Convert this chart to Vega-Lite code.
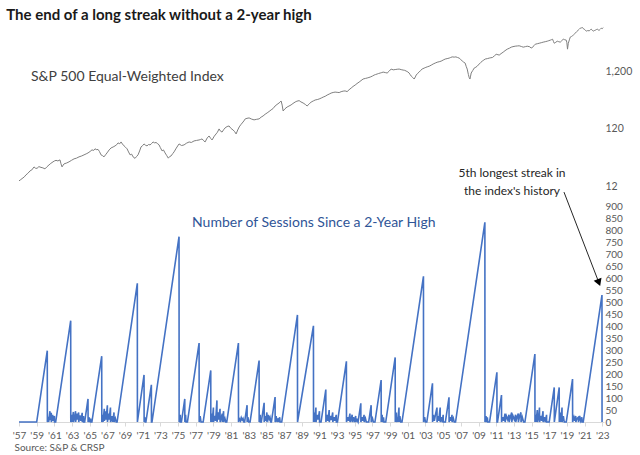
{
  "$schema": "https://vega.github.io/schema/vega-lite/v6.json",
  "padding": {"left": 6, "top": 8, "right": 5, "bottom": 2},
  "background": "white",
  "bounds": "flush",
  "title": {"text": "The end of a long streak without a 2-year high", "anchor": "start", "fontSize": 15, "font": "Lato", "fontWeight": "bold", "color": "#1a1a1a", "dx": -6, "dy": 4, "offset": 6},
  "config": {"view": {"stroke": null}, "font": "Lato"},
  "spacing": 9,
  "datasets": {
    "index": [
      {"t":1957.0,"p":15.2},{"t":1957.2,"p":16.0},{"t":1957.45,"p":17.1},{"t":1957.6,"p":17.8},{"t":1957.79,"p":19.3},{"t":1958.0,"p":20.5},{"t":1958.25,"p":22.6},{"t":1958.45,"p":23.5},{"t":1958.7,"p":26.5},{"t":1958.85,"p":25.2},{"t":1959.04,"p":25.0},{"t":1959.25,"p":26.8},{"t":1959.49,"p":26.0},{"t":1959.7,"p":25.5},{"t":1959.94,"p":24.5},{"t":1960.15,"p":26.5},{"t":1960.4,"p":28.7},{"t":1960.6,"p":30.5},{"t":1960.85,"p":32.4},{"t":1961.0,"p":33.5},{"t":1961.19,"p":34.4},{"t":1961.4,"p":33.6},{"t":1961.64,"p":35.0},{"t":1961.75,"p":30.0},{"t":1961.87,"p":26.5},{"t":1962.0,"p":28.5},{"t":1962.1,"p":29.9},{"t":1962.4,"p":31.0},{"t":1962.66,"p":32.4},{"t":1962.95,"p":34.5},{"t":1963.23,"p":36.5},{"t":1963.5,"p":37.5},{"t":1963.79,"p":39.5},{"t":1964.1,"p":41.0},{"t":1964.36,"p":42.8},{"t":1964.6,"p":44.5},{"t":1964.81,"p":46.2},{"t":1965.05,"p":49.0},{"t":1965.26,"p":52.2},{"t":1965.45,"p":51.0},{"t":1965.6,"p":54.4},{"t":1965.8,"p":52.5},{"t":1965.94,"p":53.2},{"t":1966.1,"p":49.0},{"t":1966.28,"p":42.8},{"t":1966.45,"p":41.5},{"t":1966.62,"p":39.5},{"t":1966.8,"p":43.0},{"t":1966.96,"p":46.2},{"t":1967.2,"p":52.0},{"t":1967.42,"p":56.4},{"t":1967.65,"p":58.5},{"t":1967.87,"p":61.1},{"t":1968.05,"p":64.0},{"t":1968.21,"p":68.8},{"t":1968.4,"p":66.5},{"t":1968.55,"p":71.5},{"t":1968.7,"p":66.0},{"t":1968.89,"p":61.1},{"t":1969.05,"p":58.0},{"t":1969.23,"p":54.4},{"t":1969.4,"p":48.0},{"t":1969.57,"p":42.8},{"t":1969.75,"p":44.0},{"t":1969.91,"p":39.5},{"t":1970.13,"p":37.2},{"t":1970.3,"p":40.0},{"t":1970.47,"p":42.8},{"t":1970.65,"p":50.0},{"t":1970.81,"p":58.7},{"t":1971.0,"p":62.0},{"t":1971.15,"p":66.1},{"t":1971.3,"p":63.0},{"t":1971.49,"p":61.1},{"t":1971.65,"p":64.5},{"t":1971.83,"p":63.6},{"t":1972.0,"p":67.0},{"t":1972.17,"p":71.5},{"t":1972.35,"p":69.0},{"t":1972.51,"p":70.0},{"t":1972.7,"p":66.5},{"t":1972.85,"p":63.6},{"t":1973.0,"p":57.0},{"t":1973.19,"p":50.1},{"t":1973.35,"p":52.0},{"t":1973.53,"p":46.2},{"t":1973.7,"p":42.0},{"t":1973.9,"p":37.5},{"t":1974.05,"p":40.0},{"t":1974.21,"p":41.0},{"t":1974.4,"p":45.0},{"t":1974.55,"p":48.2},{"t":1974.8,"p":56.0},{"t":1975.11,"p":66.1},{"t":1975.4,"p":62.0},{"t":1975.68,"p":63.6},{"t":1975.95,"p":68.0},{"t":1976.25,"p":71.5},{"t":1976.5,"p":70.0},{"t":1976.81,"p":74.4},{"t":1977.1,"p":76.0},{"t":1977.38,"p":77.4},{"t":1977.55,"p":79.0},{"t":1977.72,"p":80.6},{"t":1977.9,"p":75.0},{"t":1978.06,"p":71.5},{"t":1978.3,"p":84.0},{"t":1978.51,"p":90.7},{"t":1978.7,"p":82.0},{"t":1978.85,"p":77.4},{"t":1979.1,"p":90.0},{"t":1979.3,"p":98.3},{"t":1979.45,"p":105},{"t":1979.64,"p":120},{"t":1979.8,"p":110},{"t":1979.98,"p":106},{"t":1980.15,"p":116},{"t":1980.32,"p":125},{"t":1980.55,"p":132},{"t":1980.77,"p":135},{"t":1981.0,"p":122},{"t":1981.23,"p":115},{"t":1981.4,"p":108},{"t":1981.57,"p":98.3},{"t":1981.75,"p":115},{"t":1981.92,"p":130},{"t":1982.1,"p":142},{"t":1982.26,"p":152},{"t":1982.45,"p":165},{"t":1982.6,"p":179},{"t":1982.8,"p":183},{"t":1983.04,"p":186},{"t":1983.3,"p":178},{"t":1983.6,"p":172},{"t":1983.9,"p":176},{"t":1984.17,"p":179},{"t":1984.4,"p":192},{"t":1984.62,"p":201},{"t":1984.85,"p":215},{"t":1985.08,"p":227},{"t":1985.3,"p":240},{"t":1985.53,"p":256},{"t":1985.75,"p":270},{"t":1985.98,"p":299},{"t":1986.2,"p":318},{"t":1986.43,"p":337},{"t":1986.55,"p":350},{"t":1986.66,"p":365},{"t":1986.78,"p":310},{"t":1986.89,"p":245},{"t":1987.1,"p":268},{"t":1987.34,"p":287},{"t":1987.55,"p":298},{"t":1987.79,"p":312},{"t":1988.0,"p":330},{"t":1988.25,"p":350},{"t":1988.45,"p":362},{"t":1988.7,"p":370},{"t":1988.9,"p":352},{"t":1989.15,"p":337},{"t":1989.4,"p":318},{"t":1989.6,"p":299},{"t":1989.85,"p":325},{"t":1990.06,"p":350},{"t":1990.3,"p":365},{"t":1990.51,"p":379},{"t":1990.75,"p":386},{"t":1990.96,"p":395},{"t":1991.2,"p":410},{"t":1991.42,"p":426},{"t":1991.65,"p":440},{"t":1991.87,"p":462},{"t":1992.1,"p":480},{"t":1992.32,"p":500},{"t":1992.55,"p":512},{"t":1992.77,"p":520},{"t":1993.0,"p":515},{"t":1993.23,"p":510},{"t":1993.45,"p":528},{"t":1993.68,"p":540},{"t":1993.9,"p":545},{"t":1994.13,"p":530},{"t":1994.35,"p":570},{"t":1994.59,"p":611},{"t":1994.8,"p":650},{"t":1995.04,"p":688},{"t":1995.25,"p":730},{"t":1995.49,"p":775},{"t":1995.7,"p":820},{"t":1995.94,"p":874},{"t":1996.2,"p":895},{"t":1996.4,"p":911},{"t":1996.6,"p":930},{"t":1996.74,"p":945},{"t":1997.0,"p":985},{"t":1997.19,"p":1024},{"t":1997.35,"p":1045},{"t":1997.53,"p":1067},{"t":1997.7,"p":1090},{"t":1997.87,"p":1109},{"t":1998.05,"p":1130},{"t":1998.21,"p":1152},{"t":1998.45,"p":1130},{"t":1998.66,"p":1109},{"t":1998.9,"p":1200},{"t":1999.11,"p":1300},{"t":1999.35,"p":1260},{"t":1999.57,"p":1274},{"t":1999.8,"p":1290},{"t":2000.02,"p":1300},{"t":2000.25,"p":1270},{"t":2000.47,"p":1248},{"t":2000.65,"p":1235},{"t":2000.81,"p":1200},{"t":2001.0,"p":1160},{"t":2001.15,"p":1109},{"t":2001.25,"p":1050},{"t":2001.38,"p":984},{"t":2001.55,"p":930},{"t":2001.72,"p":874},{"t":2001.85,"p":950},{"t":2001.95,"p":1024},{"t":2002.1,"p":1090},{"t":2002.28,"p":1152},{"t":2002.45,"p":1230},{"t":2002.62,"p":1300},{"t":2002.85,"p":1350},{"t":2003.04,"p":1390},{"t":2003.2,"p":1420},{"t":2003.42,"p":1455},{"t":2003.65,"p":1520},{"t":2003.87,"p":1590},{"t":2004.1,"p":1650},{"t":2004.32,"p":1705},{"t":2004.55,"p":1740},{"t":2004.77,"p":1780},{"t":2005.0,"p":1860},{"t":2005.23,"p":1935},{"t":2005.45,"p":1970},{"t":2005.68,"p":2010},{"t":2005.85,"p":2060},{"t":2006.02,"p":2110},{"t":2006.25,"p":2090},{"t":2006.44,"p":2110},{"t":2006.62,"p":2060},{"t":2006.81,"p":2010},{"t":2006.98,"p":1900},{"t":2007.15,"p":1800},{"t":2007.3,"p":1720},{"t":2007.49,"p":1645},{"t":2007.6,"p":1450},{"t":2007.72,"p":1300},{"t":2007.85,"p":1050},{"t":2007.95,"p":920},{"t":2008.03,"p":874},{"t":2008.1,"p":980},{"t":2008.17,"p":1109},{"t":2008.35,"p":1230},{"t":2008.51,"p":1350},{"t":2008.7,"p":1400},{"t":2008.85,"p":1455},{"t":2009.08,"p":1590},{"t":2009.25,"p":1690},{"t":2009.42,"p":1780},{"t":2009.6,"p":1860},{"t":2009.76,"p":1935},{"t":2010.0,"p":1970},{"t":2010.21,"p":2010},{"t":2010.4,"p":2040},{"t":2010.58,"p":2060},{"t":2010.8,"p":2200},{"t":2011.0,"p":2340},{"t":2011.2,"p":2300},{"t":2011.34,"p":2265},{"t":2011.55,"p":2400},{"t":2011.79,"p":2545},{"t":2012.0,"p":2700},{"t":2012.25,"p":2870},{"t":2012.5,"p":2980},{"t":2012.7,"p":3105},{"t":2012.9,"p":3170},{"t":2013.15,"p":3230},{"t":2013.4,"p":3260},{"t":2013.6,"p":3280},{"t":2013.85,"p":3190},{"t":2014.06,"p":3105},{"t":2014.3,"p":3170},{"t":2014.51,"p":3230},{"t":2014.8,"p":3150},{"t":2014.95,"p":3000},{"t":2015.11,"p":3070},{"t":2015.25,"p":3280},{"t":2015.42,"p":3490},{"t":2015.65,"p":3560},{"t":2015.87,"p":3630},{"t":2016.1,"p":3710},{"t":2016.32,"p":3790},{"t":2016.55,"p":3860},{"t":2016.78,"p":3940},{"t":2016.95,"p":4020},{"t":2017.12,"p":4100},{"t":2017.25,"p":4180},{"t":2017.38,"p":4260},{"t":2017.48,"p":3900},{"t":2017.57,"p":3630},{"t":2017.75,"p":3780},{"t":2017.91,"p":3940},{"t":2018.08,"p":3860},{"t":2018.25,"p":3790},{"t":2018.42,"p":4020},{"t":2018.59,"p":4260},{"t":2018.75,"p":4180},{"t":2018.93,"p":4100},{"t":2019.0,"p":3700},{"t":2019.07,"p":2870},{"t":2019.16,"p":3630},{"t":2019.28,"p":4150},{"t":2019.38,"p":4630},{"t":2019.52,"p":4750},{"t":2019.64,"p":4860},{"t":2019.8,"p":5150},{"t":2019.94,"p":5420},{"t":2020.1,"p":5750},{"t":2020.28,"p":6090},{"t":2020.4,"p":6350},{"t":2020.51,"p":6600},{"t":2020.65,"p":6700},{"t":2020.77,"p":6780},{"t":2020.85,"p":6500},{"t":2020.96,"p":6360},{"t":2021.08,"p":6100},{"t":2021.19,"p":5880},{"t":2021.35,"p":6000},{"t":2021.53,"p":5950},{"t":2021.65,"p":6200},{"t":2021.76,"p":6360},{"t":2021.88,"p":6050},{"t":2021.98,"p":5880},{"t":2022.1,"p":6000},{"t":2022.21,"p":6090},{"t":2022.33,"p":6250},{"t":2022.44,"p":6360},{"t":2022.55,"p":6150},{"t":2022.66,"p":6090},{"t":2022.78,"p":6350},{"t":2022.89,"p":6600},{"t":2023.0,"p":6500},{"t":2023.12,"p":6750}
    ],
    "sessions": [
      {"t":1957.0,"n":0},{"t":1959.0,"n":0},{"t":1960.2,"n":297},{"t":1960.21,"n":0},{"t":1960.35,"n":22},{"t":1960.36,"n":0},{"t":1960.5,"n":45},{"t":1960.55,"n":8},{"t":1960.65,"n":38},{"t":1960.66,"n":0},{"t":1960.8,"n":30},{"t":1960.85,"n":5},{"t":1961.0,"n":25},{"t":1961.01,"n":0},{"t":1961.15,"n":0},{"t":1962.85,"n":422},{"t":1962.86,"n":0},{"t":1963.0,"n":30},{"t":1963.01,"n":0},{"t":1963.15,"n":42},{"t":1963.16,"n":0},{"t":1963.3,"n":20},{"t":1963.4,"n":45},{"t":1963.41,"n":0},{"t":1963.55,"n":35},{"t":1963.6,"n":10},{"t":1963.75,"n":40},{"t":1963.76,"n":0},{"t":1963.9,"n":28},{"t":1964.0,"n":5},{"t":1964.15,"n":38},{"t":1964.16,"n":0},{"t":1964.3,"n":25},{"t":1964.31,"n":0},{"t":1964.43,"n":0},{"t":1964.81,"n":96},{"t":1964.82,"n":0},{"t":1964.95,"n":20},{"t":1965.0,"n":0},{"t":1965.1,"n":15},{"t":1965.11,"n":0},{"t":1965.25,"n":0},{"t":1966.36,"n":274},{"t":1966.37,"n":0},{"t":1966.5,"n":30},{"t":1966.51,"n":0},{"t":1966.65,"n":55},{"t":1966.66,"n":5},{"t":1966.8,"n":45},{"t":1966.85,"n":10},{"t":1967.0,"n":70},{"t":1967.01,"n":0},{"t":1967.15,"n":35},{"t":1967.2,"n":10},{"t":1967.35,"n":60},{"t":1967.36,"n":0},{"t":1967.5,"n":25},{"t":1967.6,"n":0},{"t":1967.75,"n":40},{"t":1967.76,"n":0},{"t":1967.9,"n":15},{"t":1968.0,"n":0},{"t":1968.1,"n":0},{"t":1970.39,"n":578},{"t":1970.4,"n":0},{"t":1971.15,"n":196},{"t":1971.16,"n":0},{"t":1971.25,"n":20},{"t":1971.3,"n":0},{"t":1971.36,"n":0},{"t":1971.98,"n":155},{"t":1971.99,"n":0},{"t":1972.05,"n":0},{"t":1975.11,"n":772},{"t":1975.12,"n":0},{"t":1975.25,"n":30},{"t":1975.26,"n":0},{"t":1975.38,"n":0},{"t":1975.76,"n":96},{"t":1975.77,"n":0},{"t":1975.85,"n":30},{"t":1975.9,"n":0},{"t":1976.06,"n":0},{"t":1977.38,"n":329},{"t":1977.39,"n":0},{"t":1977.5,"n":25},{"t":1977.6,"n":0},{"t":1977.84,"n":0},{"t":1978.7,"n":215},{"t":1978.71,"n":0},{"t":1978.85,"n":35},{"t":1978.86,"n":0},{"t":1979.0,"n":60},{"t":1979.01,"n":0},{"t":1979.15,"n":25},{"t":1979.25,"n":5},{"t":1979.4,"n":90},{"t":1979.41,"n":0},{"t":1979.55,"n":40},{"t":1979.6,"n":10},{"t":1979.75,"n":55},{"t":1979.76,"n":0},{"t":1979.9,"n":20},{"t":1980.0,"n":35},{"t":1980.01,"n":0},{"t":1980.15,"n":45},{"t":1980.16,"n":0},{"t":1980.3,"n":15},{"t":1980.4,"n":0},{"t":1980.51,"n":0},{"t":1981.83,"n":329},{"t":1981.84,"n":0},{"t":1981.95,"n":12},{"t":1982.05,"n":5},{"t":1982.15,"n":18},{"t":1982.25,"n":8},{"t":1982.35,"n":15},{"t":1982.45,"n":0},{"t":1982.53,"n":0},{"t":1982.81,"n":70},{"t":1982.82,"n":0},{"t":1982.9,"n":20},{"t":1983.0,"n":0},{"t":1983.15,"n":0},{"t":1984.17,"n":256},{"t":1984.18,"n":0},{"t":1984.3,"n":30},{"t":1984.31,"n":0},{"t":1984.42,"n":0},{"t":1984.74,"n":80},{"t":1984.75,"n":0},{"t":1984.85,"n":25},{"t":1984.95,"n":5},{"t":1985.05,"n":40},{"t":1985.06,"n":0},{"t":1985.2,"n":30},{"t":1985.3,"n":10},{"t":1985.4,"n":20},{"t":1985.5,"n":0},{"t":1985.56,"n":0},{"t":1985.98,"n":104},{"t":1985.99,"n":0},{"t":1986.1,"n":25},{"t":1986.2,"n":0},{"t":1986.35,"n":15},{"t":1986.4,"n":0},{"t":1986.5,"n":20},{"t":1986.55,"n":0},{"t":1986.73,"n":0},{"t":1988.51,"n":446},{"t":1988.52,"n":0},{"t":1990.32,"n":401},{"t":1990.33,"n":0},{"t":1990.45,"n":40},{"t":1990.46,"n":0},{"t":1990.6,"n":60},{"t":1990.61,"n":0},{"t":1990.75,"n":30},{"t":1990.85,"n":10},{"t":1991.0,"n":45},{"t":1991.01,"n":0},{"t":1991.18,"n":0},{"t":1991.72,"n":135},{"t":1991.73,"n":0},{"t":1991.85,"n":30},{"t":1991.95,"n":5},{"t":1992.1,"n":50},{"t":1992.11,"n":0},{"t":1992.25,"n":25},{"t":1992.35,"n":8},{"t":1992.5,"n":40},{"t":1992.51,"n":0},{"t":1992.65,"n":20},{"t":1992.75,"n":5},{"t":1992.9,"n":30},{"t":1992.91,"n":0},{"t":1993.04,"n":0},{"t":1994.05,"n":253},{"t":1994.06,"n":0},{"t":1994.2,"n":20},{"t":1994.3,"n":5},{"t":1994.45,"n":35},{"t":1994.46,"n":0},{"t":1994.6,"n":15},{"t":1994.7,"n":30},{"t":1994.71,"n":0},{"t":1994.85,"n":20},{"t":1994.95,"n":0},{"t":1995.1,"n":25},{"t":1995.11,"n":0},{"t":1995.25,"n":10},{"t":1995.37,"n":0},{"t":1995.68,"n":78},{"t":1995.69,"n":0},{"t":1995.8,"n":20},{"t":1995.9,"n":5},{"t":1996.05,"n":30},{"t":1996.06,"n":0},{"t":1996.2,"n":15},{"t":1996.3,"n":0},{"t":1996.57,"n":0},{"t":1996.85,"n":70},{"t":1996.86,"n":0},{"t":1997.0,"n":15},{"t":1997.1,"n":0},{"t":1997.28,"n":0},{"t":1997.98,"n":175},{"t":1997.99,"n":0},{"t":1998.1,"n":30},{"t":1998.11,"n":0},{"t":1998.25,"n":20},{"t":1998.3,"n":0},{"t":1998.5,"n":0},{"t":1999.57,"n":269},{"t":1999.58,"n":0},{"t":1999.7,"n":40},{"t":1999.71,"n":0},{"t":1999.8,"n":20},{"t":1999.85,"n":0},{"t":2000.0,"n":60},{"t":2000.01,"n":0},{"t":2000.1,"n":25},{"t":2000.2,"n":0},{"t":2000.34,"n":0},{"t":2002.77,"n":607},{"t":2002.78,"n":0},{"t":2002.9,"n":20},{"t":2003.0,"n":0},{"t":2003.15,"n":0},{"t":2003.79,"n":161},{"t":2003.8,"n":0},{"t":2003.9,"n":30},{"t":2004.0,"n":5},{"t":2004.15,"n":35},{"t":2004.3,"n":60},{"t":2004.31,"n":0},{"t":2004.45,"n":25},{"t":2004.5,"n":5},{"t":2004.66,"n":60},{"t":2004.67,"n":0},{"t":2004.8,"n":20},{"t":2004.9,"n":0},{"t":2005.0,"n":30},{"t":2005.01,"n":0},{"t":2005.25,"n":0},{"t":2005.66,"n":103},{"t":2005.67,"n":0},{"t":2005.8,"n":20},{"t":2005.9,"n":5},{"t":2006.0,"n":30},{"t":2006.01,"n":0},{"t":2006.15,"n":15},{"t":2006.25,"n":0},{"t":2006.4,"n":0},{"t":2009.72,"n":832},{"t":2009.73,"n":0},{"t":2009.85,"n":25},{"t":2009.9,"n":0},{"t":2010.0,"n":20},{"t":2010.05,"n":0},{"t":2010.25,"n":0},{"t":2011.08,"n":207},{"t":2011.09,"n":0},{"t":2011.15,"n":0},{"t":2011.6,"n":112},{"t":2011.61,"n":0},{"t":2011.75,"n":20},{"t":2011.85,"n":5},{"t":2012.0,"n":35},{"t":2012.01,"n":0},{"t":2012.15,"n":25},{"t":2012.3,"n":10},{"t":2012.45,"n":30},{"t":2012.46,"n":0},{"t":2012.6,"n":20},{"t":2012.75,"n":40},{"t":2012.76,"n":0},{"t":2012.9,"n":25},{"t":2013.05,"n":10},{"t":2013.2,"n":30},{"t":2013.21,"n":0},{"t":2013.35,"n":20},{"t":2013.5,"n":35},{"t":2013.51,"n":0},{"t":2013.65,"n":25},{"t":2013.8,"n":40},{"t":2013.81,"n":0},{"t":2013.95,"n":20},{"t":2014.1,"n":0},{"t":2014.25,"n":0},{"t":2015.38,"n":283},{"t":2015.39,"n":0},{"t":2015.5,"n":30},{"t":2015.51,"n":0},{"t":2015.65,"n":50},{"t":2015.66,"n":0},{"t":2015.8,"n":20},{"t":2015.9,"n":60},{"t":2015.91,"n":0},{"t":2016.05,"n":25},{"t":2016.15,"n":5},{"t":2016.3,"n":45},{"t":2016.31,"n":0},{"t":2016.45,"n":20},{"t":2016.55,"n":0},{"t":2016.7,"n":30},{"t":2016.71,"n":0},{"t":2017.0,"n":0},{"t":2017.57,"n":144},{"t":2017.58,"n":0},{"t":2018.13,"n":144},{"t":2018.14,"n":0},{"t":2018.3,"n":40},{"t":2018.31,"n":0},{"t":2018.45,"n":60},{"t":2018.46,"n":0},{"t":2018.6,"n":25},{"t":2018.7,"n":0},{"t":2018.93,"n":0},{"t":2019.64,"n":179},{"t":2019.65,"n":0},{"t":2019.8,"n":20},{"t":2019.9,"n":5},{"t":2020.0,"n":25},{"t":2020.01,"n":0},{"t":2020.15,"n":15},{"t":2020.3,"n":20},{"t":2020.31,"n":0},{"t":2020.45,"n":25},{"t":2020.55,"n":5},{"t":2020.7,"n":20},{"t":2020.71,"n":0},{"t":2020.85,"n":0},{"t":2022.97,"n":529},{"t":2022.98,"n":0}
    ]
  },
  "vconcat": [
    {
      "width": 585,
      "height": 172,
      "layer": [
        {
          "data": {"name": "index"},
          "mark": {"type": "line", "color": "#7f7f7f", "strokeWidth": 1},
          "encoding": {
            "x": {"field": "t", "type": "quantitative", "scale": {"domain": [1957, 2023.2], "nice": false, "zero": false}, "axis": null},
            "y": {"field": "p", "type": "quantitative", "scale": {"type": "log", "domain": [8, 7500], "nice": false}, "axis": {"orient": "right", "values": [12, 120, 1200], "tickCount": 100, "format": ",", "domain": false, "ticks": false, "grid": false, "title": null, "labelFontSize": 10.5, "labelColor": "#595959", "labelPadding": 1, "labelFont": "Lato", "labelOverlap": false}}
          }
        },
        {
          "data": {"values": [{"t": 1958.36, "p": 945, "label": "S&P 500 Equal-Weighted Index"}]},
          "mark": {"type": "text", "align": "left", "baseline": "middle", "font": "Lato", "fontSize": 14, "color": "#404040"},
          "encoding": {
            "x": {"field": "t", "type": "quantitative"},
            "y": {"field": "p", "type": "quantitative"},
            "text": {"field": "label"}
          }
        }
      ]
    },
    {
      "width": 585,
      "height": 216,
      "layer": [
        {
          "data": {"name": "sessions"},
          "mark": {"type": "line", "color": "#4472c4", "strokeWidth": 1.6},
          "encoding": {
            "x": {"field": "t", "type": "quantitative", "scale": {"domain": [1957, 2023.2], "nice": false, "zero": false},
              "axis": {"orient": "bottom", "values": [1957,1959,1961,1963,1965,1967,1969,1971,1973,1975,1977,1979,1981,1983,1985,1987,1989,1991,1993,1995,1997,1999,2001,2003,2005,2007,2009,2011,2013,2015,2017,2019,2021,2023], "tickCount": 100,
                "labelExpr": "\"'\" + slice(toString(datum.value), 2)", "labelOverlap": false, "labelFlush": false, "grid": false, "domainColor": "#d9d9d9", "tickColor": "#d9d9d9", "tickSize": 4, "labelColor": "#595959", "labelFontSize": 10, "labelFont": "Lato", "labelPadding": 4,
                "title": "Source: S&P & CRSP", "titleAnchor": "start", "titleAlign": "left", "titleX": -5, "titleY": 25, "titleBaseline": "middle", "titleFontSize": 10, "titleFontWeight": "normal", "titleColor": "#595959", "titleFont": "Lato"}},
            "y": {"field": "n", "type": "quantitative", "scale": {"domain": [0, 900], "nice": false},
              "axis": {"orient": "right", "values": [0,50,100,150,200,250,300,350,400,450,500,550,600,650,700,750,800,850,900], "tickCount": 100, "labelOverlap": false, "domain": false, "ticks": false, "grid": false, "title": null, "labelFontSize": 10, "labelColor": "#595959", "labelPadding": 1, "labelFont": "Lato"}}
          }
        },
        {
          "data": {"values": [{"t": 1976.58, "n": 829, "label": "Number of Sessions Since a 2-Year High"}]},
          "mark": {"type": "text", "align": "left", "baseline": "middle", "font": "Lato", "fontSize": 14, "color": "#2f5597"},
          "encoding": {
            "x": {"field": "t", "type": "quantitative"},
            "y": {"field": "n", "type": "quantitative"},
            "text": {"field": "label"}
          }
        },
        {
          "data": {"values": [{"t": 2012.79, "n": 1037, "label": "5th longest streak in"}, {"t": 2012.79, "n": 962, "label": "the index's history"}]},
          "mark": {"type": "text", "align": "center", "baseline": "middle", "font": "Lato", "fontSize": 12, "color": "#262626"},
          "encoding": {
            "x": {"field": "t", "type": "quantitative"},
            "y": {"field": "n", "type": "quantitative"},
            "text": {"field": "label"}
          }
        },
        {
          "data": {"values": [{"t": 2018.67, "n": 958, "t2": 2022.62, "n2": 581}]},
          "mark": {"type": "rule", "color": "#262626", "strokeWidth": 1},
          "encoding": {
            "x": {"field": "t", "type": "quantitative"},
            "y": {"field": "n", "type": "quantitative"},
            "x2": {"field": "t2"},
            "y2": {"field": "n2"}
          }
        },
        {
          "data": {"values": [{"t": 2022.62, "n": 581}]},
          "mark": {"type": "point", "shape": "triangle-down", "filled": true, "color": "#000000", "size": 70, "angle": 339, "opacity": 1},
          "encoding": {
            "x": {"field": "t", "type": "quantitative"},
            "y": {"field": "n", "type": "quantitative"}
          }
        }
      ]
    }
  ]
}
